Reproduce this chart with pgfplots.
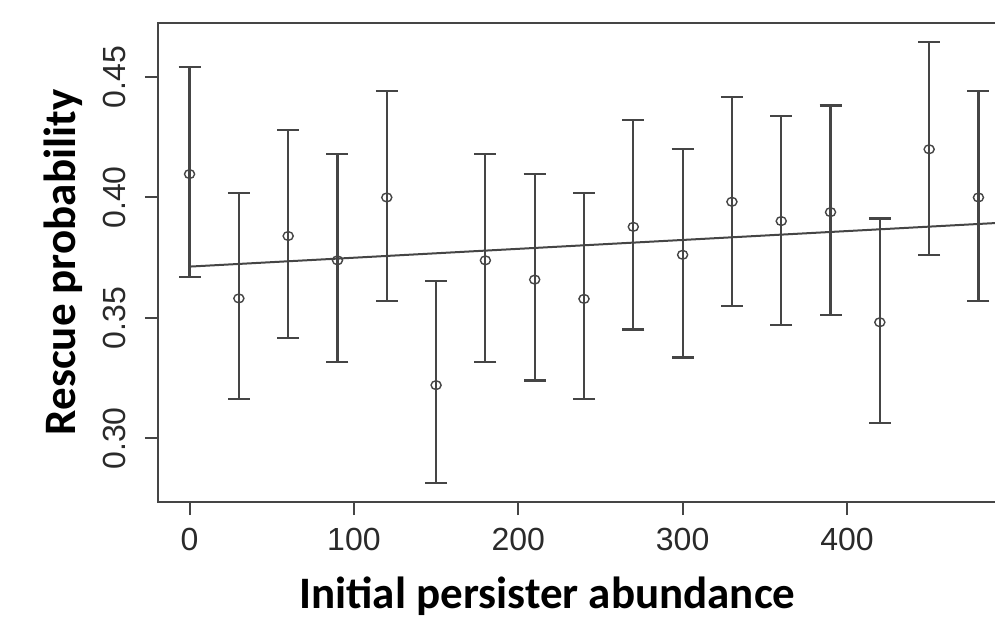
\documentclass[border=0pt]{standalone}
\usepackage{pgfplots}
\pgfplotsset{compat=1.18}
\usepackage{pgfplotstable}
\usepackage{fontspec}
\setmainfont{Carlito}
\newfontfamily\tickfont{Liberation Sans}
\definecolor{ln}{HTML}{454545}
\definecolor{tk}{HTML}{2a2a2a}

\pgfplotstableread{
x m u l
0 0.4097 0.4542 0.3669
30 0.3581 0.4018 0.3162
60 0.3840 0.4280 0.3416
90 0.3739 0.4180 0.3318
120 0.4000 0.4442 0.3569
150 0.3221 0.3652 0.2815
180 0.3739 0.4180 0.3318
210 0.3659 0.4096 0.3240
240 0.3579 0.4018 0.3162
270 0.3878 0.4321 0.3452
300 0.3762 0.4200 0.3336
330 0.3982 0.4417 0.3550
360 0.3902 0.4339 0.3471
390 0.3939 0.4382 0.3512
420 0.3482 0.3913 0.3063
450 0.4200 0.4644 0.3762
480 0.4000 0.4442 0.3569
}\datatable

\begin{document}
\begin{tikzpicture}
\begin{axis}[
  name=ax, at={(79pt,58pt)}, anchor=south west,
  scale only axis, width=426pt, height=239.5pt,
  xmin=-19.2, xmax=499.2, ymin=0.2736, ymax=0.4724,
  xtick={0,100,200,300,400},
  ytick={0.30,0.35,0.40,0.45},
  yticklabel={\pgfmathprintnumber[fixed,fixed zerofill,precision=2]{\tick}},
  xtick pos=bottom, ytick pos=left,
  tick align=outside, major tick length=6.5pt,
  tick style={line width=1pt, color=ln},
  axis line style={line width=1.1pt, color=ln},
  /pgf/number format/assume math mode=true,
  ticklabel style={font=\tickfont\fontsize{16}{16}\selectfont, text=tk},
  xticklabel style={anchor=north, yshift=-3pt},
  yticklabel style={rotate=90, anchor=south, yshift=6pt},
  xlabel={\textbf{Initial persister abundance}},
  ylabel={\textbf{Rescue probability}},
  label style={font=\fontsize{22.5}{22.5}\selectfont},
  xlabel style={at={(axis description cs:0.457,-0.222)}, anchor=base},
  ylabel style={at={(axis description cs:-0.0974,0.5)}, anchor=base, rotate=0},
]
\addplot[ln, line width=1pt] coordinates {(0,0.3713) (499.2,0.3897)};
\addplot[ln, line width=1pt, mark=o, mark size=2.2pt, only marks,
  mark options={line width=0.7pt, xscale=1.15},
  error bars/.cd, y dir=both, y explicit,
  error bar style={line width=1.1pt, color=ln},
  error mark options={rotate=90, mark size=5.5pt, line width=1.1pt, color=ln}]
  table[x=x, y=m, y error plus expr=\thisrow{u}-\thisrow{m}, y error minus expr=\thisrow{m}-\thisrow{l}] {\datatable};
\end{axis}
\pgfresetboundingbox
\useasboundingbox (0,0) rectangle (497.5pt,309pt);
\end{tikzpicture}
\end{document}
